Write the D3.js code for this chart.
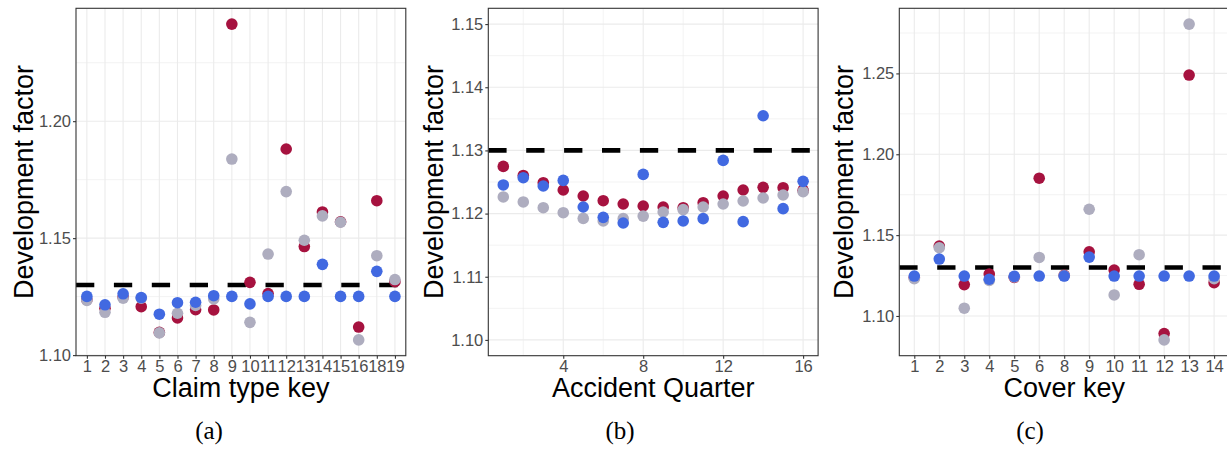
<!DOCTYPE html>
<html>
<head>
<meta charset="utf-8">
<script src="https://cdn.jsdelivr.net/npm/d3@7"></script>
<style>
  html, body { margin: 0; padding: 0; background: #fff; }
  svg { display: block; }
</style>
</head>
<body>
<svg id="chart" width="1227" height="452"></svg>
<script>
// ---- Panel (a): claim type key ----
const claimKeys = ["1","2","3","4","5","6","7","8","9","10","11","12","13","14","15","16","18","19"];
const claimRed  = [1.1237,1.1200,1.1248,1.1207,1.1097,1.1159,1.1194,1.1193,1.2415,1.1311,1.1263,1.1881,1.1464,1.1612,1.1570,1.1120,1.1660,1.1314];
const claimGray = [1.1234,1.1183,1.1243,1.1243,1.1095,1.1179,1.1212,1.1240,1.1838,1.1140,1.1432,1.1699,1.1491,1.1595,1.1568,1.1065,1.1425,1.1323];
const claimBlue = [1.1251,1.1215,1.1262,1.1246,1.1175,1.1224,1.1226,1.1254,1.1251,1.1219,1.1251,1.1251,1.1251,1.1388,1.1251,1.1251,1.1358,1.1251];

// ---- Panel (b): accident quarter ----
const quarters    = [1,2,3,4,5,6,7,8,9,10,11,12,13,14,15,16];
const quarterRed  = [1.12747,1.12604,1.12489,1.12373,1.12278,1.12204,1.12152,1.12120,1.12104,1.12093,1.12172,1.12278,1.12373,1.12415,1.12410,1.12367];
const quarterGray = [1.12263,1.12184,1.12093,1.12014,1.11924,1.11883,1.11920,1.11960,1.12025,1.12062,1.12104,1.12152,1.12199,1.12247,1.12294,1.12347];
const quarterBlue = [1.12453,1.12568,1.12437,1.12525,1.12104,1.11940,1.11851,1.12620,1.11861,1.11883,1.11920,1.12842,1.11872,1.13549,1.12078,1.12510];
const quarterTicks = [4,8,12,16];
const quarterLimits = [1.10,1.15];

// ---- Panel (c): cover key ----
const coverKeys = ["1","2","3","4","5","6","8","9","10","11","12","13","14"];
const coverRed  = [1.1238,1.1432,1.1194,1.1259,1.1239,1.1852,1.1252,1.1397,1.1284,1.1196,1.0891,1.2490,1.1206];
const coverGray = [1.1231,1.1422,1.1048,1.1220,1.1242,1.1362,1.1249,1.1660,1.1130,1.1379,1.0852,1.2805,1.1231];
const coverBlue = [1.1247,1.1352,1.1247,1.1227,1.1245,1.1247,1.1247,1.1364,1.1247,1.1247,1.1247,1.1247,1.1247];

// reference development factor (dashed line)
const referenceFactor = 1.13;

const colors = { red: "#A6123F", gray: "#AEADBF", blue: "#4169E1" };

const svg = d3.select("#chart");
const plotTop = 8.3, plotBottom = 355.7;
const panelWidth = 329.8;
const sansFont = "'Liberation Sans', Arial, Helvetica, sans-serif";

function expand(lo, hi, f) {
  const d = (hi - lo) * f;
  return [lo - d, hi + d];
}

function drawPanel(cfg) {
  const g = svg.append("g");
  const left = cfg.left, right = cfg.left + panelWidth;
  const x = cfg.x, y = cfg.y;
  x.range([left, right]);
  y.range([plotBottom, plotTop]);

  // clip area for the panel
  const clipId = "clip-" + cfg.id;
  g.append("clipPath").attr("id", clipId)
    .append("rect").attr("x", left).attr("y", plotTop)
    .attr("width", right - left).attr("height", plotBottom - plotTop);

  const grid = g.append("g").attr("clip-path", `url(#${clipId})`);
  // minor horizontal gridlines
  grid.selectAll(".ymin").data(cfg.yMinor).join("line")
    .attr("x1", left).attr("x2", right)
    .attr("y1", d => y(d)).attr("y2", d => y(d))
    .attr("stroke", "#ebebeb").attr("stroke-width", 0.6);
  // minor vertical gridlines
  grid.selectAll(".xmin").data(cfg.xMinor || []).join("line")
    .attr("y1", plotTop).attr("y2", plotBottom)
    .attr("x1", d => x(d)).attr("x2", d => x(d))
    .attr("stroke", "#ebebeb").attr("stroke-width", 0.6);
  // major gridlines
  grid.selectAll(".ymaj").data(cfg.yTicks).join("line")
    .attr("x1", left).attr("x2", right)
    .attr("y1", d => y(d)).attr("y2", d => y(d))
    .attr("stroke", "#ebebeb").attr("stroke-width", 1.1);
  grid.selectAll(".xmaj").data(cfg.xTicks).join("line")
    .attr("y1", plotTop).attr("y2", plotBottom)
    .attr("x1", d => x(d)).attr("x2", d => x(d))
    .attr("stroke", "#ebebeb").attr("stroke-width", 1.1);

  // dashed reference line
  grid.append("line")
    .attr("x1", left).attr("x2", right)
    .attr("y1", y(referenceFactor)).attr("y2", y(referenceFactor))
    .attr("stroke", "#000").attr("stroke-width", 4.6)
    .attr("stroke-dasharray", "18.3,19.6");

  // points: red, then gray, then blue on top
  const series = [
    { vals: cfg.red, color: colors.red },
    { vals: cfg.gray, color: colors.gray },
    { vals: cfg.blue, color: colors.blue }
  ];
  series.forEach(s => {
    grid.append("g").selectAll("circle").data(cfg.keys.map((k, i) => ({ k, v: s.vals[i] })))
      .join("circle")
      .attr("cx", d => x(d.k)).attr("cy", d => y(d.v))
      .attr("r", 5.8).attr("fill", s.color);
  });

  // panel border
  g.append("rect").attr("x", left).attr("y", plotTop)
    .attr("width", right - left).attr("height", plotBottom - plotTop)
    .attr("fill", "none").attr("stroke", "#333").attr("stroke-width", 1.1);

  // y axis
  const yAxis = g.append("g").attr("transform", `translate(${left},0)`)
    .call(d3.axisLeft(y).tickValues(cfg.yTicks).tickFormat(d3.format(".2f")).tickSize(3).tickPadding(2));
  yAxis.select(".domain").remove();
  yAxis.selectAll(".tick line").attr("stroke", "#333").attr("stroke-width", 1.1);
  yAxis.selectAll(".tick text").attr("fill", "#4d4d4d")
    .style("font-family", sansFont).style("font-size", "16.5px");

  // x axis
  const xAxis = g.append("g").attr("transform", `translate(0,${plotBottom})`)
    .call(d3.axisBottom(x).tickValues(cfg.xTicks).tickSize(3).tickPadding(2));
  xAxis.select(".domain").remove();
  xAxis.selectAll(".tick line").attr("stroke", "#333").attr("stroke-width", 1.1);
  xAxis.selectAll(".tick text").attr("fill", "#4d4d4d")
    .style("font-family", sansFont).style("font-size", "16.5px");

  // axis titles
  g.append("text")
    .attr("transform", `translate(${cfg.yTitleX},${(plotTop + plotBottom) / 2}) rotate(-90)`)
    .attr("text-anchor", "middle")
    .style("font-family", sansFont).style("font-size", "27px").attr("fill", "#000")
    .text("Development factor");
  g.append("text")
    .attr("x", (left + right) / 2).attr("y", 397)
    .attr("text-anchor", "middle")
    .style("font-family", sansFont).style("font-size", "27px").attr("fill", "#000")
    .text(cfg.xTitle);

  // sub-figure caption
  g.append("text")
    .attr("x", cfg.captionX).attr("y", 439)
    .attr("text-anchor", "middle")
    .style("font-family", "'Liberation Serif', 'Times New Roman', serif").style("font-size", "25px")
    .attr("fill", "#000")
    .text(cfg.caption);
}

// Panel (a)
{
  const all = claimRed.concat(claimGray, claimBlue, [referenceFactor]);
  drawPanel({
    id: "a", left: 76,
    keys: claimKeys, red: claimRed, gray: claimGray, blue: claimBlue,
    x: d3.scalePoint().domain(claimKeys).padding(0.6),
    y: d3.scaleLinear().domain(expand(d3.min(all), d3.max(all), 0.05)),
    xTicks: claimKeys,
    yTicks: [1.10, 1.15, 1.20],
    yMinor: [1.125, 1.175, 1.225],
    xTitle: "Claim type key", yTitleX: 33, caption: "(a)", captionX: 209
  });
}

// Panel (b)
{
  drawPanel({
    id: "b", left: 488.3,
    keys: quarters, red: quarterRed, gray: quarterGray, blue: quarterBlue,
    x: d3.scaleLinear().domain(expand(d3.min(quarters), d3.max(quarters), 0.05)),
    y: d3.scaleLinear().domain(expand(quarterLimits[0], quarterLimits[1], 0.05)),
    xTicks: quarterTicks,
    xMinor: [2, 6, 10, 14],
    yTicks: [1.10, 1.11, 1.12, 1.13, 1.14, 1.15],
    yMinor: [1.105, 1.115, 1.125, 1.135, 1.145],
    xTitle: "Accident Quarter", yTitleX: 443, caption: "(b)", captionX: 620
  });
}

// Panel (c)
{
  const all = coverRed.concat(coverGray, coverBlue, [referenceFactor]);
  drawPanel({
    id: "c", left: 899.3,
    keys: coverKeys, red: coverRed, gray: coverGray, blue: coverBlue,
    x: d3.scalePoint().domain(coverKeys).padding(0.6),
    y: d3.scaleLinear().domain(expand(d3.min(all), d3.max(all), 0.05)),
    xTicks: coverKeys,
    yTicks: [1.10, 1.15, 1.20, 1.25],
    yMinor: [1.075, 1.125, 1.175, 1.225, 1.275],
    xTitle: "Cover key", yTitleX: 853, caption: "(c)", captionX: 1030
  });
}
</script>
</body>
</html>
